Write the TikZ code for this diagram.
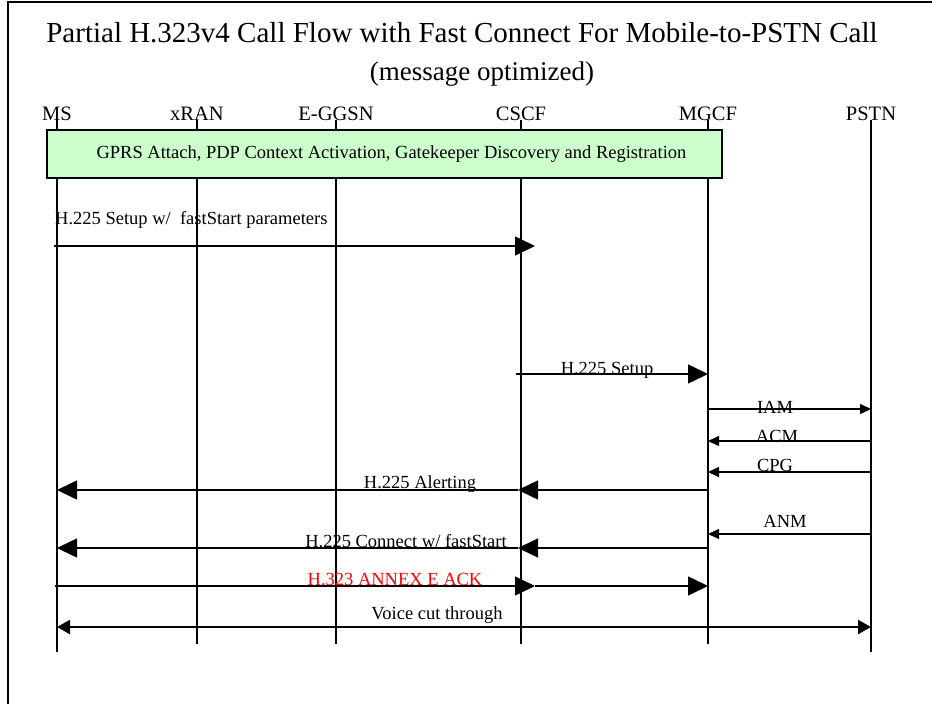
\documentclass[tikz,border=0pt]{standalone}
\usepackage{fontspec}
\setmainfont{Liberation Serif}
\usetikzlibrary{arrows.meta,calc}
\definecolor{boxgreen}{RGB}{204,255,204}
\begin{document}
\begin{tikzpicture}[x=1pt,y=-1pt,
  lifelabel/.style={font=\fontsize{20.5}{24}\selectfont, anchor=base, inner sep=0pt},
  msglabel/.style={font=\fontsize{18.5}{22}\selectfont, anchor=base, inner sep=0pt},
  lifeline/.style={line width=1.2pt},
  bigmsg/.style={line width=1.5pt, -{Triangle[length=20pt,width=19pt]}},
  smallmsg/.style={line width=1.4pt, -{Triangle[length=11pt,width=10pt]}},
  voicemsg/.style={line width=2.2pt, {Triangle[length=13pt,width=14pt]}-{Triangle[length=13pt,width=14pt]}}]
\useasboundingbox (0,0) rectangle (932,704);

% outer frame
\draw[line width=1.6pt] (8,704) -- (8,2) -- (932,2);

% titles
\node[font=\fontsize{29}{34}\selectfont, anchor=base, inner sep=0pt] (title) at (462,42)
  {Partial H.323v4 Call Flow with Fast Connect For Mobile-to-PSTN Call};
\node[font=\fontsize{27}{32}\selectfont, anchor=base, inner sep=0pt] (subtitle) at (482,80)
  {(message optimized)};

% lifeline headers
\node[lifelabel] (ms)    at (57,120)  {MS};
\node[lifelabel] (xran)  at (197,120) {xRAN};
\node[lifelabel] (eggsn) at (336,120) {E-GGSN};
\node[lifelabel] (cscf)  at (521,120) {CSCF};
\node[lifelabel] (mgcf)  at (708,120) {MGCF};
\node[lifelabel] (pstn)  at (871,120) {PSTN};

% lifeline ends
\coordinate (endlong)  at (0,652);
\coordinate (endshort) at (0,644);

\draw[lifeline] (ms.base)    -- (ms |- endlong);
\draw[lifeline] (xran.base)  -- (xran |- endshort);
\draw[lifeline] (eggsn.base) -- (eggsn |- endshort);
\draw[lifeline] (cscf.base)  -- (cscf |- endshort);
\draw[lifeline] (mgcf.base)  -- (mgcf |- endshort);
\draw[lifeline] (pstn.base)  -- (pstn |- endlong);

% attach / registration phase
\node[draw, fill=boxgreen, line width=1.5pt, minimum width=675pt, minimum height=48pt,
      inner sep=0pt, font=\fontsize{18.5}{22}\selectfont] (attach) at (384.5,154)
  {\hspace*{14pt}GPRS Attach, PDP Context Activation, Gatekeeper Discovery and Registration};

% message rows
\coordinate (r1)  at (0,246);
\coordinate (r2)  at (0,374);
\coordinate (r3)  at (0,409);
\coordinate (r4)  at (0,441);
\coordinate (r5)  at (0,472);
\coordinate (r6)  at (0,490);
\coordinate (r7)  at (0,534);
\coordinate (r8)  at (0,548);
\coordinate (r9)  at (0,586);
\coordinate (r10) at (0,627);

% H.225 Setup w/ fastStart parameters
\draw[bigmsg] ($(ms |- r1)+(-3,0)$) -- ($(cscf |- r1)+(14,0)$);
\node[msglabel, anchor=base west] (l1) at (55,224) {H.225 Setup w/\ \ fastStart parameters};

% H.225 Setup
\draw[bigmsg] ($(cscf |- r2)+(-5,0)$) -- (mgcf |- r2);
\node[msglabel] (l2) at (607,374) {H.225 Setup};

% IAM / ACM / CPG
\draw[smallmsg] (mgcf |- r3) -- (pstn |- r3);
\node[msglabel] (l3) at (775,413) {IAM};
\draw[smallmsg] (pstn |- r4) -- (mgcf |- r4);
\node[msglabel] (l4) at (777,442) {ACM};
\draw[smallmsg] (pstn |- r5) -- (mgcf |- r5);
\node[msglabel] (l5) at (775,471) {CPG};

% H.225 Alerting
\coordinate (a6) at ($(cscf |- r6)+(-3,0)$);
\draw[bigmsg] (mgcf |- r6) -- (a6);
\draw[bigmsg] (a6) -- (ms |- r6);
\node[msglabel] (l6) at (420,488) {H.225 Alerting};

% ANM
\draw[smallmsg] (pstn |- r7) -- (mgcf |- r7);
\node[msglabel] (l7) at (785,527) {ANM};

% H.225 Connect w/ fastStart
\coordinate (a8) at ($(cscf |- r8)+(-3,0)$);
\draw[bigmsg] (mgcf |- r8) -- (a8);
\draw[bigmsg] (a8) -- (ms |- r8);
\node[msglabel] (l8) at (406,547) {H.225 Connect w/ fastStart};

% H.323 Annex E ACK
\coordinate (a9) at ($(cscf |- r9)+(14,0)$);
\draw[bigmsg] ($(ms |- r9)+(-2,0)$) -- (a9);
\draw[bigmsg] (a9) -- (mgcf |- r9);
\node[msglabel, text=red] (l9) at (395,585) {H.323 ANNEX E ACK};

% Voice cut through
\draw[voicemsg] (ms |- r10) -- (pstn |- r10);
\node[msglabel] (l10) at (437,619) {Voice cut through};
\end{tikzpicture}
\end{document}
